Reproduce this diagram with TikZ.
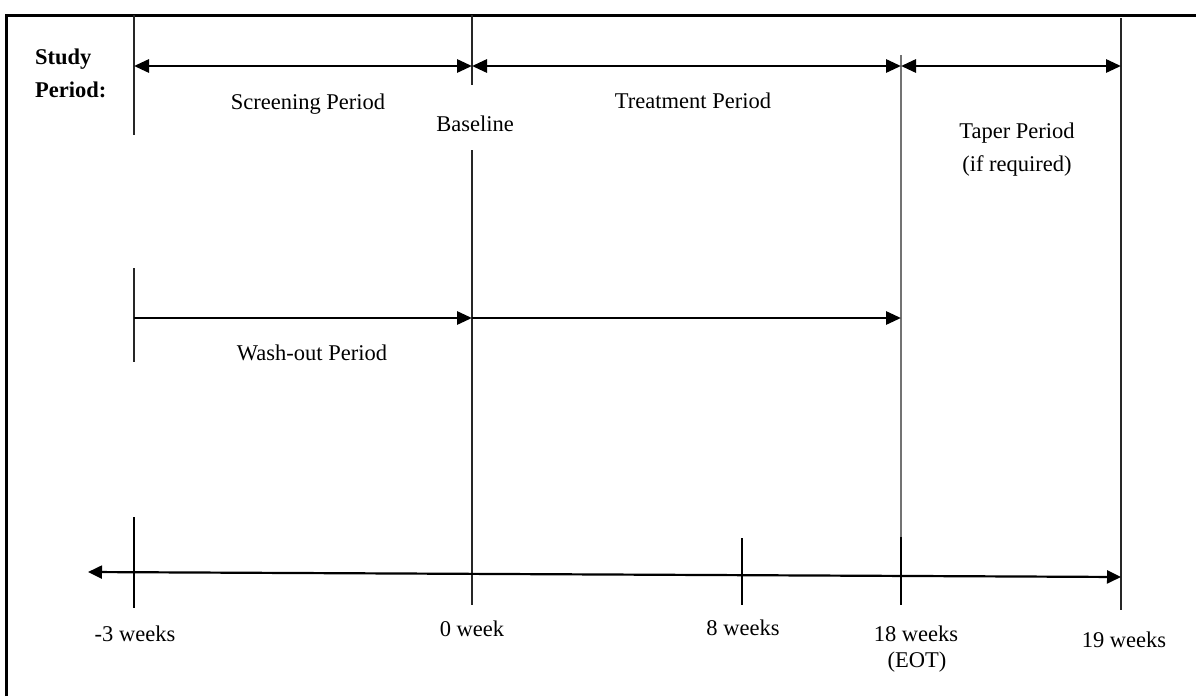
\documentclass[tikz,border=0pt]{standalone}
\usepackage{fontspec}
\setmainfont{Liberation Serif}
\usetikzlibrary{arrows.meta}
\begin{document}
\begin{tikzpicture}[x=1pt,y=-1pt,
  lbl/.style={font=\fontsize{22.5}{26}\selectfont, inner sep=0pt, anchor=base},
  blbl/.style={font=\fontsize{22.5}{26}\selectfont\bfseries, inner sep=0pt, anchor=base west},
  vline/.style={line width=2.2pt, black!85},
  gline/.style={line width=1.7pt, black!55},
  per/.style={line width=2.9pt, {Triangle[length=15pt,width=13pt]}-{Triangle[length=15pt,width=13pt]}},
  fwd/.style={line width=2.9pt, -{Triangle[length=15pt,width=13pt]}},
  axisline/.style={line width=2.2pt, {Triangle[length=14pt,width=13pt]}-{Triangle[length=14pt,width=13pt]}},
  tickline/.style={line width=2pt}]
\useasboundingbox (0,0) rectangle (1196,696);
\fill[white] (0,0) rectangle (1196,696);
% frame
\coordinate (f0) at (6,696);
\coordinate (f1) at (6,15);
\coordinate (f2) at (1196,15);
\draw[line width=3pt] (f0) -- (f1) -- (f2);
% vertical boundaries
\coordinate (s0) at (134,15);  \coordinate (s1) at (134,135);
\coordinate (b0) at (472,15);  \coordinate (b1) at (472,85);
\coordinate (b2) at (472,150); \coordinate (b3) at (472,605);
\coordinate (e0) at (901,55);  \coordinate (e1) at (901,605);
\coordinate (t0) at (1121,18); \coordinate (t1) at (1121,610);
\draw[vline] (s0) -- (s1);
\draw[vline] (b0) -- (b1);
\draw[vline] (b2) -- (b3);
\draw[gline] (e0) -- (e1);
\draw[vline] (t0) -- (t1);
% study period arrows
\coordinate (pa) at (134,66); \coordinate (pb) at (472,66);
\coordinate (pc) at (901,66); \coordinate (pd) at (1121,66);
\draw[per] (pa) -- (pb);
\draw[per] (pb) -- (pc);
\draw[per] (pc) -- (pd);
% wash-out
\coordinate (w0) at (134,268); \coordinate (w1) at (134,362);
\coordinate (wa) at (134,318); \coordinate (wb) at (472,318); \coordinate (wc) at (901,318);
\draw[vline] (w0) -- (w1);
\draw[fwd] (wa) -- (wb);
\draw[fwd] (wb) -- (wc);
% time axis
\coordinate (ax0) at (88,572); \coordinate (ax1) at (1121,577);
\draw[axisline] (ax0) -- (ax1);
\coordinate (k0a) at (134,517); \coordinate (k0b) at (134,608);
\coordinate (k8a) at (742,538); \coordinate (k8b) at (742,605);
\coordinate (k18a) at (901,537); \coordinate (k18b) at (901,605);
\draw[tickline] (k0a) -- (k0b);
\draw[tickline] (k8a) -- (k8b);
\draw[tickline] (k18a) -- (k18b);
% labels
\node[blbl] (study) at (35,64) {Study};
\node[blbl] (period) at (35,97) {Period:};
\node[lbl] (scr) at (308,109) {Screening Period};
\node[lbl] (base) at (475,131) {Baseline};
\node[lbl] (trt) at (693,108) {Treatment Period};
\node[lbl] (tap) at (1017,138) {Taper Period};
\node[lbl] (ifr) at (1017,171) {(if required)};
\node[lbl] (wash) at (312,360) {Wash-out Period};
\node[lbl] (wm3) at (135,641) {-3 weeks};
\node[lbl] (w0l) at (472,636) {0 week};
\node[lbl] (w8) at (743,635) {8 weeks};
\node[lbl] (w18) at (916,641) {18 weeks};
\node[lbl] (eot) at (917,667) {(EOT)};
\node[lbl] (w19) at (1124,647) {19 weeks};
\end{tikzpicture}
\end{document}
